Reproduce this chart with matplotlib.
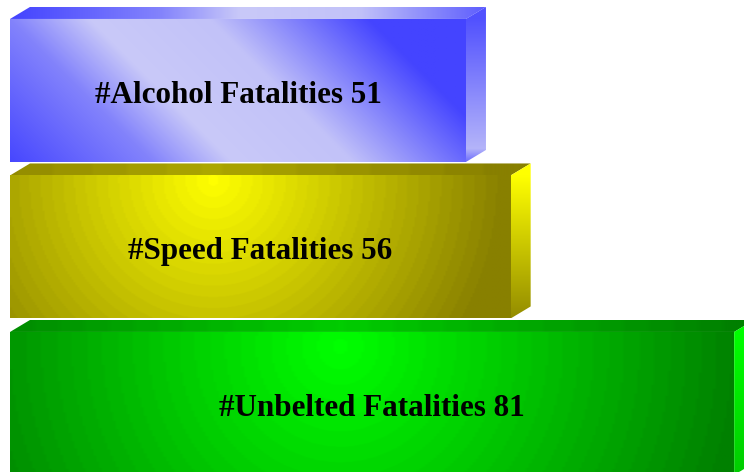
import numpy as np
import matplotlib.pyplot as plt
from matplotlib.patches import Polygon

labels = ['#Alcohol Fatalities', '#Speed Fatalities', '#Unbelted Fatalities']
values = [51, 56, 81]

# (dark, light) colour pairs of each bar's gradient
shades = [((68, 68, 255), (208, 208, 248)),
          ((136, 128, 0), (255, 255, 0)),
          ((0, 128, 0), (0, 255, 0))]

fig = plt.figure(figsize=(7.44, 4.72), dpi=100)
ax = fig.add_axes([0, 0, 1, 1])
XLIM = (-1.12, 82.1)
YLIM = (2.438, -0.578)
ax.axis('off')

sx = 744 / (XLIM[1] - XLIM[0])      # px per value unit
sy = 472 / (YLIM[0] - YLIM[1])      # px per band
half = 71.5 / sy                    # half height of front face
ddx, ddy = 20 / sx, 12 / sy         # 3d depth offset


def mix(c0, c1, t):
    t = np.clip(t, 0, 1)[..., None]
    c0 = np.array(c0) / 255.0
    c1 = np.array(c1) / 255.0
    return c0 * (1 - t) + c1 * t


def paint(verts, fn, n=260):
    poly = Polygon(verts, closed=True, facecolor='none', edgecolor='none')
    ax.add_patch(poly)
    xs = [v[0] for v in verts]
    ys = [v[1] for v in verts]
    X, Y = np.meshgrid(np.linspace(min(xs), max(xs), n),
                       np.linspace(min(ys), max(ys), n))
    im = ax.imshow(fn(X, Y), extent=(min(xs), max(xs), min(ys), max(ys)),
                   origin='lower', aspect='auto', interpolation='bilinear')
    im.set_clip_path(poly)


def band(t, steps=26):
    return np.round(np.clip(t, 0, 1) * steps) / steps


# diagonal profile of the blue bar
S_PTS = [-150, 0, 80, 200, 360]
T_PTS = [0, 0.45, 0.95, 0.9, 0]

for i, (lab, v) in enumerate(zip(labels, values)):
    dark, light = shades[i]
    top, bot = i - half, i + half
    front = [(0, top), (v, top), (v, bot), (0, bot)]
    lid = [(0, top), (ddx, top - ddy), (v + ddx, top - ddy), (v, top)]
    side = [(v, top), (v + ddx, top - ddy), (v + ddx, bot - ddy), (v, bot)]

    # offsets in px from the front face's top-left corner
    def off(X, Y, top=top):
        return X * sx, (Y - top) * sy

    if i == 0:
        def f_front(X, Y):
            px, py = off(X, Y)
            return mix(dark, light, np.interp(px - py, S_PTS, T_PTS))

        def f_lid(X, Y):
            px, py = off(X, Y)
            return mix(dark, light, np.interp(px - 150, S_PTS, T_PTS))

        def f_side(X, Y):
            px, py = off(X, Y)
            return mix(dark, light, np.interp(py, [0, 130, 143], [0.1, 0.8, 0.3]))
    else:
        cx, cy, R = (203, 5, 290) if i == 1 else (330, 15, 400)

        def f_front(X, Y, cx=cx, cy=cy, R=R):
            px, py = off(X, Y)
            r = np.hypot(px - cx, py - cy)
            return mix(dark, light, band(1 - r / R))

        def f_lid(X, Y, cx=cx, R=R, k=(0.3 if i == 1 else 0.6)):
            px, py = off(X, Y)
            return mix(dark, light, band(k * (1 - np.abs(px - cx) / R)))

        def f_side(X, Y, lo=(0.1 if i == 1 else 0.6)):
            px, py = off(X, Y)
            return mix(dark, light, np.interp(py, [0, 143], [1, lo]))

    paint(lid, f_lid, n=120)
    paint(side, f_side, n=120)
    paint(front, f_front)

    ax.text(v / 2, i + 0.03, '%s %d' % (lab, v), ha='center', va='center',
            fontsize=22.4, fontweight='bold', family='Liberation Serif',
            color='black')

ax.set_xlim(*XLIM)
ax.set_ylim(*YLIM)
fig.savefig('out.png', dpi=100, facecolor='white')
